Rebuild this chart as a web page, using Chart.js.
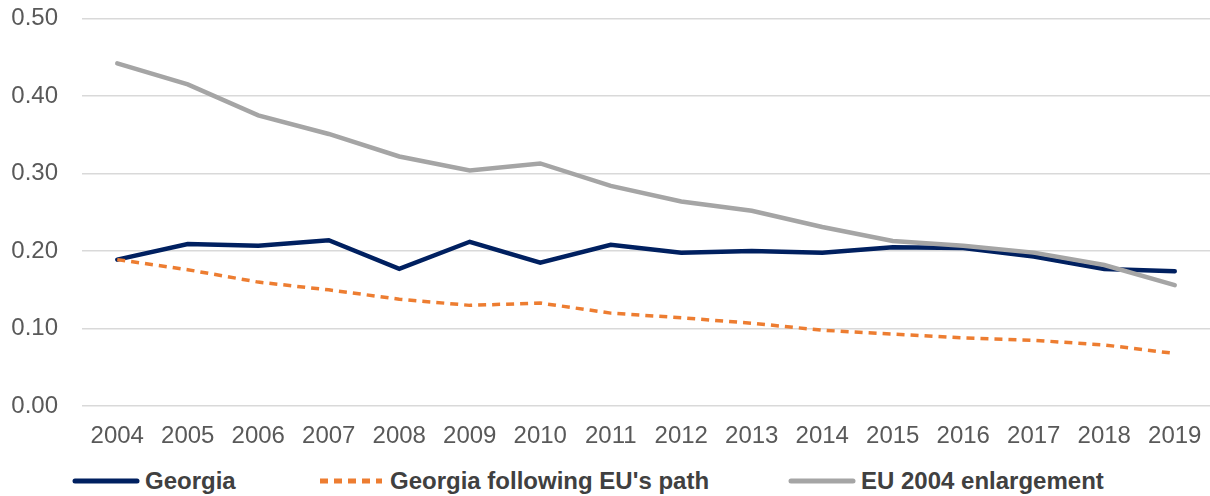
<!DOCTYPE html>
<html lang="en">
<head>
  <meta charset="UTF-8">
  <title>Georgia vs EU 2004 enlargement</title>
  <script src="https://cdn.jsdelivr.net/npm/chart.js"></script>
  <style>
    body {
      margin: 0;
      background: white;
      font-family: 'Liberation Sans', Arial, sans-serif;
      overflow: hidden;
    }
    #wrap {
      position: relative;
      width: 1210px;
      height: 496px;
      overflow: hidden;
    }
    #chartBox {
      position: absolute;
      top: -20px;
      left: 0;
      width: 1210px;
      height: 479px;
    }
    #legend {
      position: absolute;
      top: 467px;
      left: 0;
      width: 1210px;
      height: 28px;
    }
    .item {
      position: absolute;
      top: 0;
      height: 28px;
      display: flex;
      align-items: center;
      gap: 5px;
      font-size: 24px;
      font-weight: bold;
      color: #404040;
      white-space: nowrap;
    }
    .item svg {
      width: 68px;
      height: 8px;
    }
  </style>
</head>
<body>
  <div id="wrap">
    <div id="chartBox"><canvas id="chart"></canvas></div>
    <div id="legend"></div>
  </div>

  <script>
    // Data
    const years = ['2004', '2005', '2006', '2007', '2008', '2009', '2010', '2011',
                   '2012', '2013', '2014', '2015', '2016', '2017', '2018', '2019'];
    const georgia = [0.189, 0.209, 0.207, 0.214, 0.177, 0.212, 0.185, 0.208,
                     0.198, 0.200, 0.198, 0.205, 0.204, 0.193, 0.177, 0.174];
    const georgiaEuPath = [0.189, 0.176, 0.160, 0.150, 0.138, 0.130, 0.133, 0.120,
                           0.114, 0.107, 0.098, 0.093, 0.088, 0.085, 0.079, 0.068];
    const eu2004 = [0.442, 0.415, 0.375, 0.351, 0.322, 0.304, 0.313, 0.284,
                    0.264, 0.252, 0.231, 0.213, 0.207, 0.198, 0.182, 0.156];

    const navy = '#002060';
    const orange = '#ED7D31';
    const grey = '#A5A5A5';

    const config = {
      type: 'line',
      data: {
        labels: years,
        datasets: [
          {
            label: 'Georgia',
            data: georgia,
            borderColor: navy,
            borderWidth: 4.5,
            borderCapStyle: 'round',
            pointRadius: 0,
            order: 2
          },
          {
            label: "Georgia following EU's path",
            data: georgiaEuPath,
            borderColor: orange,
            borderWidth: 3.5,
            borderDash: [8, 6],
            pointRadius: 0,
            order: 1
          },
          {
            label: 'EU 2004 enlargement',
            data: eu2004,
            borderColor: grey,
            borderWidth: 4.5,
            borderCapStyle: 'round',
            pointRadius: 0,
            order: 0
          }
        ]
      },
      options: {
        responsive: true,
        maintainAspectRatio: false,
        animation: false,
        layout: {
          padding: { top: 4, left: 0, right: 0, bottom: 0 }
        },
        scales: {
          x: {
            offset: true,
            grid: { display: false },
            border: { display: false },
            ticks: {
              color: '#595959',
              font: { family: 'Liberation Sans', size: 24 },
              padding: 8,
              maxRotation: 0,
              autoSkip: false
            }
          },
          y: {
            min: 0,
            max: 0.5,
            grid: { color: '#D9D9D9', lineWidth: 1.5, drawTicks: false },
            border: { display: false },
            ticks: {
              stepSize: 0.1,
              color: '#595959',
              padding: 24,
              font: { family: 'Liberation Sans', size: 24 },
              callback: (v) => v.toFixed(2)
            },
            afterFit: (scale) => { scale.width = 82; }
          }
        },
        plugins: {
          tooltip: { enabled: false },
          legend: { display: false }
        }
      }
    };

    const chart = new Chart(document.getElementById('chart'), config);

    // Legend built from the datasets, laid out like the original
    const legendLeft = [72, 317, 788];
    const legend = document.getElementById('legend');
    chart.data.datasets.forEach((ds, i) => {
      const item = document.createElement('div');
      item.className = 'item';
      item.style.left = legendLeft[i] + 'px';
      const dash = ds.borderDash ? ` stroke-dasharray="${ds.borderDash.join(' ')}"` : '';
      const cap = ds.borderDash ? 'butt' : 'round';
      item.innerHTML =
        `<svg viewBox="0 0 68 8"><line x1="3" y1="4" x2="65" y2="4" stroke="${ds.borderColor}"` +
        ` stroke-width="5" stroke-linecap="${cap}"${dash}/></svg><span>${ds.label}</span>`;
      legend.appendChild(item);
    });
  </script>
</body>
</html>
